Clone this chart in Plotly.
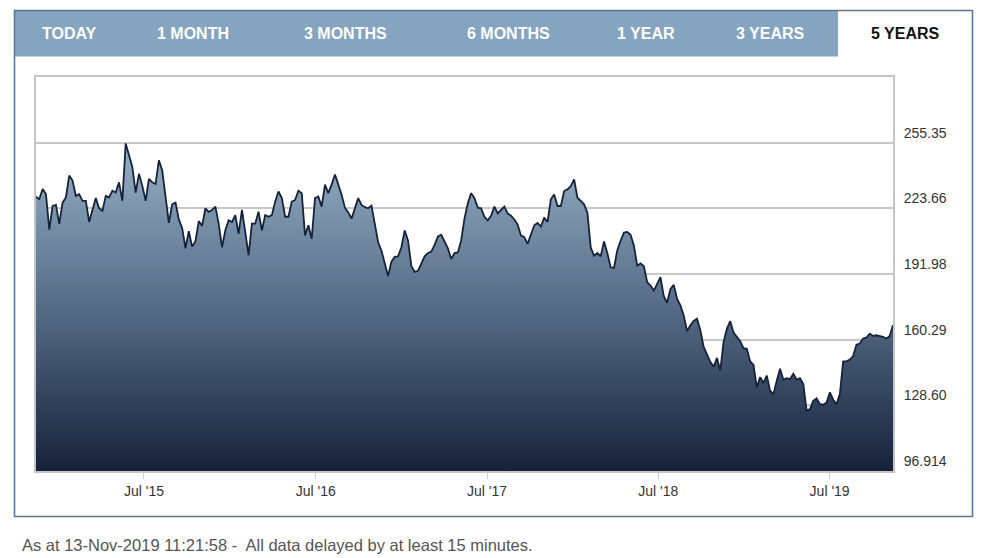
import pandas as pd
import plotly.graph_objects as go

# ---------------- data ----------------
start_date = "2014-11-13"
end_date = "2019-11-13"

prices = [
    229.2, 228.1, 233.0, 230.5, 213.4, 224.8, 225.3, 216.2, 226.4, 228.9,
    239.5, 237.1, 229.7, 230.5, 227.3, 227.3, 217.1, 222.4, 228.6, 223.7,
    222.4, 229.7, 228.9, 232.2, 231.3, 236.2, 227.3, 255.0, 249.3, 243.6,
    231.3, 240.3, 234.6, 227.3, 237.9, 236.2, 235.4, 246.9, 241.9, 230.5,
    216.7, 225.6, 226.4, 218.3, 214.2, 204.4, 212.6, 205.2, 207.7, 217.5,
    215.2, 223.7, 222.0, 222.8, 224.5, 216.3, 204.9, 213.1, 217.9, 217.1,
    220.4, 211.4, 222.9, 212.2, 201.1, 216.3, 216.3, 222.0, 213.0, 220.4,
    219.6, 220.4, 226.9, 231.8, 228.6, 219.6, 219.6, 226.9, 227.7, 232.2,
    231.0, 210.6, 215.5, 209.0, 228.6, 229.4, 224.5, 235.1, 231.0, 235.1,
    240.0, 235.1, 230.2, 224.0, 221.7, 218.7, 223.3, 228.6, 225.3, 224.2,
    223.7,
    225.0, 216.2, 207.3, 203.2, 197.5, 191.0, 197.9, 200.3, 200.5, 204.9,
    213.0, 208.2, 195.9, 193.0, 193.5, 197.0, 200.5, 202.1, 202.8, 206.0,
    210.1, 210.9, 207.2, 204.4, 199.2, 202.1, 202.4, 208.2, 218.8, 226.1,
    231.0, 228.6, 224.0, 223.7, 219.6, 217.9, 220.1, 224.5, 221.2, 222.8,
    224.5, 221.2, 220.1, 218.3, 215.8, 210.6, 209.8, 206.5, 210.9, 215.5,
    216.6,
    214.9, 219.2, 217.1, 228.0, 230.4, 224.8, 224.8, 232.0, 232.8, 234.4,
    237.6, 228.8, 227.2, 225.6, 221.6, 204.8, 200.8, 202.1, 200.5, 207.7,
    202.1, 195.2, 194.9, 203.5, 208.0, 212.0, 212.3, 210.9, 205.6, 196.0,
    197.1, 195.7, 188.0, 186.4, 184.0, 187.2, 190.4, 181.3, 178.1, 184.8,
    186.7, 180.0, 176.8, 172.0, 164.5, 167.2, 169.3, 170.4, 164.8, 156.8,
    153.1, 149.6, 147.2, 151.5,
    145.4, 159.2, 165.6, 169.2, 163.7, 161.3, 159.5, 156.2, 155.9, 149.8,
    148.1, 137.3, 142.2, 139.4, 143.0, 135.7, 134.0, 140.5, 146.2, 141.0,
    141.7, 141.3, 143.8, 141.0, 141.7, 138.9, 126.0, 126.8, 130.8, 132.0,
    129.2, 128.9, 130.0, 134.9, 131.3, 129.2, 134.0, 149.8, 149.8, 150.7,
    152.4, 157.9, 158.4, 160.8, 161.3, 163.2, 162.1, 162.4, 162.1, 161.6,
    160.8, 162.1, 167.3,
]

y_tick_values = [96.914, 128.60, 160.29, 191.98, 223.66, 255.35]
y_tick_labels = ["96.914", "128.60", "160.29", "191.98", "223.66", "255.35"]
y_range = [96.914, 287.04]

x_tick_values = ["2015-07-01", "2016-07-01", "2017-07-01", "2018-07-01", "2019-07-01"]
x_tick_labels = ["Jul '15", "Jul '16", "Jul '17", "Jul '18", "Jul '19"]

tab_labels = ["TODAY", "1 MONTH", "3 MONTHS", "6 MONTHS", "1 YEAR", "3 YEARS", "5 YEARS"]
active_tab = "5 YEARS"
footer_text = "As at 13-Nov-2019 11:21:58 -\u00a0 All data delayed by at least 15 minutes."

dates = pd.date_range(start_date, end_date, periods=len(prices))

# ---------------- layout helpers ----------------
OFF = 8                                 # page body margin of the browser
W, H = 1001 - OFF, 558 - OFF
L, R, T, B = 36 - OFF, 893 - OFF, 77 - OFF, 471 - OFF   # plot area in figure pixels
PW, PH = R - L, B - T


def px(x):
    """page x pixel -> paper coordinate"""
    return (x - OFF - L) / PW


def py(y):
    """page y pixel -> paper coordinate"""
    return (B - (y - OFF)) / PH


FONT = "Liberation Sans, Arial, Helvetica, sans-serif"

fig = go.Figure()
fig.add_trace(go.Scatter(
    x=dates, y=prices, mode="lines",
    line=dict(color="#15233a", width=1.8),
    fill="tozeroy",
    fillgradient=dict(type="vertical",
                      colorscale=[[0, "#17223a"], [0.5, "#566c86"], [1, "#98b0c8"]],
                      start=y_range[0], stop=255.35),
    hoverinfo="x+y", showlegend=False,
))

shapes = []
# tab bar
shapes.append(dict(type="rect", xref="paper", yref="paper",
                   x0=px(15), x1=px(838), y0=py(11), y1=py(56.5),
                   fillcolor="#85a4bf", line=dict(width=0), layer="above"))
# outer frame
shapes.append(dict(type="rect", xref="paper", yref="paper",
                   x0=px(14.5), x1=px(972.5), y0=py(10.5), y1=py(516.5),
                   fillcolor="rgba(0,0,0,0)", line=dict(color="#5b7791", width=1.6),
                   layer="above"))

annotations = []
tab_centers = [69, 193, 345, 508, 646, 770, 905]
for lab, cx in zip(tab_labels, tab_centers):
    annotations.append(dict(
        x=px(cx), y=py(34), xref="paper", yref="paper", text="<b>%s</b>" % lab,
        showarrow=False, xanchor="center", yanchor="middle",
        font=dict(family=FONT, size=16,
                  color="#111111" if lab == active_tab else "#ffffff")))
annotations.append(dict(
    x=px(20), y=py(545), xref="paper", yref="paper", text=footer_text,
    showarrow=False, xanchor="left", yanchor="middle",
    font=dict(family=FONT, size=16.5, color="#555555")))

fig.update_layout(
    width=W, height=H,
    margin=dict(l=L, r=W - R, t=T, b=H - B, pad=0),
    paper_bgcolor="white", plot_bgcolor="white",
    shapes=shapes, annotations=annotations,
    xaxis=dict(
        type="date", range=[dates[0], dates[-1]],
        tickvals=x_tick_values, ticktext=x_tick_labels,
        ticks="outside", ticklen=6, tickcolor="#c0d0e0", tickwidth=1,
        tickfont=dict(family=FONT, size=14, color="#333333"),
        showgrid=False, zeroline=False,
        showline=True, linecolor="#c4c4c4", linewidth=2, mirror=True,
    ),
    yaxis=dict(
        side="right", range=y_range,
        tickvals=y_tick_values, ticktext=y_tick_labels,
        ticks="", ticklabelstandoff=6, ticklabelshift=-10,
        tickfont=dict(family=FONT, size=14, color="#333333"),
        showgrid=True, gridcolor="#c8c8c8", gridwidth=1.5, zeroline=False,
        showline=True, linecolor="#c4c4c4", linewidth=2, mirror=True,
    ),
    hovermode="x",
)

fig.write_html("out.html")
